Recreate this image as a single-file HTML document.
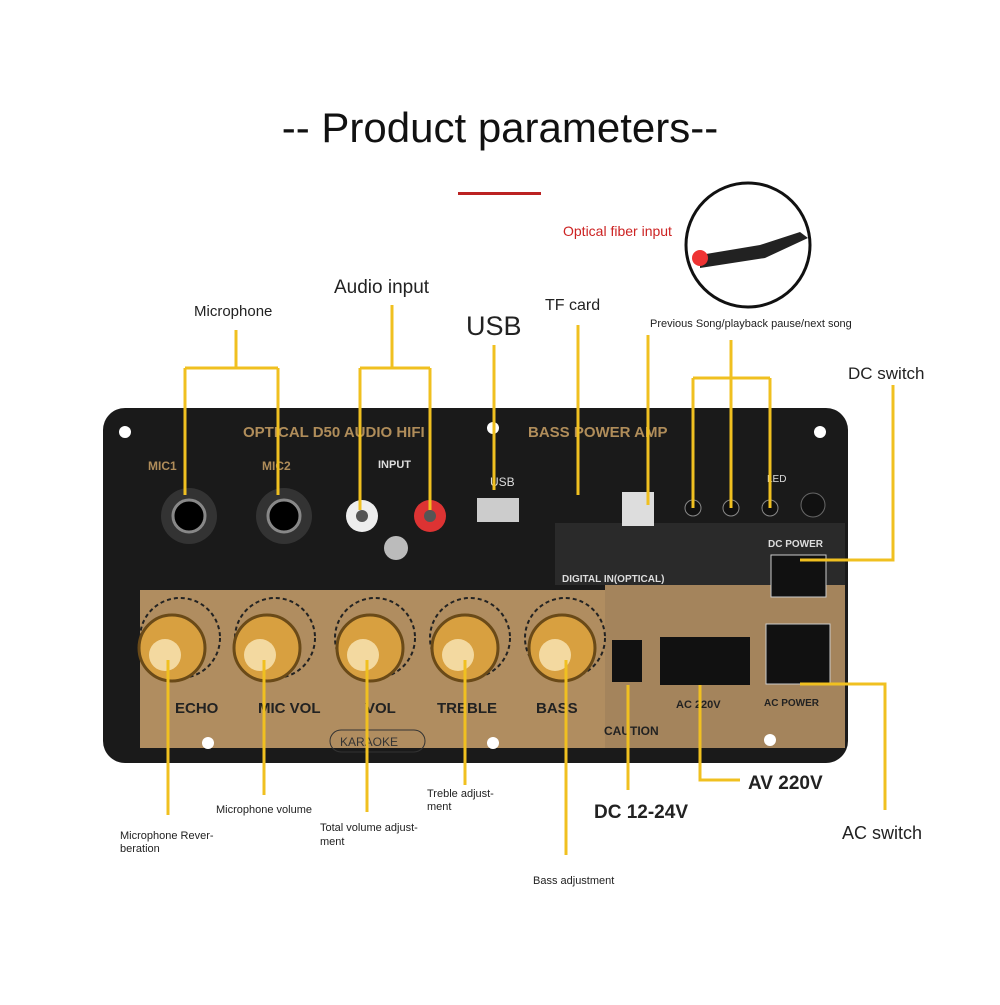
<!DOCTYPE html>
<html><head><meta charset="utf-8"><style>
body{margin:0;width:1000px;height:1000px;background:#fff;overflow:hidden;font-family:"Liberation Sans",sans-serif;}
</style></head><body>
<svg width="1000" height="1000" xmlns="http://www.w3.org/2000/svg" font-family="Liberation Sans, sans-serif">
<text x="500" y="142" font-size="42" text-anchor="middle" fill="#111">-- Product parameters--</text>
<rect x="458" y="192" width="83" height="3" fill="#b22"/>
<circle cx="748" cy="245" r="62" fill="#fff" stroke="#111" stroke-width="3"/>
<path d="M700 255 L760 245 L800 232 L808 238 L765 258 L700 268Z" fill="#222"/>
<circle cx="700" cy="258" r="8" fill="#e33"/>
<text x="563" y="236" font-size="14" fill="#c22">Optical fiber input</text>
<rect x="103" y="408" width="745" height="355" rx="22" fill="#1a1a1a"/>
<rect x="140" y="590" width="705" height="158" fill="#b08d60"/>
<rect x="555" y="523" width="290" height="62" fill="#2a2a2a"/>
<rect x="605" y="585" width="240" height="163" fill="#a4845c"/>
<text x="243" y="437" font-size="15" font-weight="bold" fill="#b08d5a">OPTICAL D50 AUDIO HIFI</text>
<text x="528" y="437" font-size="15" font-weight="bold" fill="#b08d5a">BASS POWER AMP</text>
<text x="148" y="470" font-size="12" font-weight="bold" fill="#b08d5a">MIC1</text>
<text x="262" y="470" font-size="12" font-weight="bold" fill="#b08d5a">MIC2</text>
<text x="378" y="468" font-size="11" font-weight="bold" fill="#ddd">INPUT</text>
<text x="490" y="486" font-size="12" fill="#ddd">USB</text>
<text x="767" y="482" font-size="10" fill="#ddd">LED</text>
<text x="768" y="547" font-size="10" font-weight="bold" fill="#ddd">DC POWER</text>
<text x="562" y="582" font-size="10" font-weight="bold" fill="#ddd">DIGITAL IN(OPTICAL)</text>
<circle cx="189" cy="516" r="28" fill="#333"/><circle cx="189" cy="516" r="16" fill="#000" stroke="#888" stroke-width="3"/>
<circle cx="284" cy="516" r="28" fill="#333"/><circle cx="284" cy="516" r="16" fill="#000" stroke="#888" stroke-width="3"/>
<circle cx="362" cy="516" r="16" fill="#eee"/><circle cx="362" cy="516" r="6" fill="#555"/>
<circle cx="430" cy="516" r="16" fill="#d33"/><circle cx="430" cy="516" r="6" fill="#555"/>
<circle cx="396" cy="548" r="12" fill="#bbb"/>
<rect x="477" y="498" width="42" height="24" fill="#ccc"/>
<rect x="622" y="492" width="32" height="34" fill="#ddd"/>
<rect x="771" y="555" width="55" height="42" fill="#111" stroke="#ccc"/>
<rect x="766" y="624" width="64" height="60" fill="#111" stroke="#ccc"/>
<rect x="612" y="640" width="30" height="42" fill="#111"/>
<rect x="660" y="637" width="90" height="48" fill="#111"/>
<circle cx="693" cy="508" r="8" fill="#111" stroke="#888"/><circle cx="731" cy="508" r="8" fill="#111" stroke="#888"/><circle cx="770" cy="508" r="8" fill="#111" stroke="#888"/>
<circle cx="813" cy="505" r="12" fill="#111" stroke="#666"/>
<g fill="none" stroke="#222" stroke-width="2" stroke-dasharray="4 3">
<circle cx="180" cy="638" r="40"/><circle cx="275" cy="638" r="40"/><circle cx="375" cy="638" r="40"/><circle cx="470" cy="638" r="40"/><circle cx="565" cy="638" r="40"/>
</g>
<g fill="#d8a040" stroke="#6a4a18" stroke-width="3">
<circle cx="172" cy="648" r="33"/><circle cx="267" cy="648" r="33"/><circle cx="370" cy="648" r="33"/><circle cx="465" cy="648" r="33"/><circle cx="562" cy="648" r="33"/>
</g>
<g fill="#f3d9a0">
<circle cx="165" cy="655" r="16"/><circle cx="260" cy="655" r="16"/><circle cx="363" cy="655" r="16"/><circle cx="458" cy="655" r="16"/><circle cx="555" cy="655" r="16"/>
</g>
<g font-size="15" font-weight="bold" fill="#222">
<text x="175" y="713">ECHO</text><text x="258" y="713">MIC VOL</text><text x="365" y="713">VOL</text><text x="437" y="713">TREBLE</text><text x="536" y="713">BASS</text>
<text x="676" y="708" font-size="11">AC 220V</text><text x="764" y="706" font-size="10">AC POWER</text>
<text x="604" y="735" font-size="12">CAUTION</text></g>
<rect x="330" y="730" width="95" height="22" rx="11" fill="none" stroke="#333"/>
<text x="340" y="746" font-size="12" fill="#333">KARAOKE</text>
<g fill="#fff"><circle cx="125" cy="432" r="6"/><circle cx="493" cy="428" r="6"/><circle cx="820" cy="432" r="6"/><circle cx="208" cy="743" r="6"/><circle cx="493" cy="743" r="6"/><circle cx="770" cy="740" r="6"/></g>
<g stroke="#f0c020" stroke-width="3" fill="none">
<path d="M236 330V368M185 368H278M185 368V495M278 368V495"/>
<path d="M392 305V368M360 368H430M360 368V510M430 368V510"/>
<path d="M494 345V490"/><path d="M578 325V495"/><path d="M648 335V505"/>
<path d="M731 340V378M693 378H770M693 378V508M731 378V508M770 378V508"/>
<path d="M893 385V560H800"/><path d="M800 684H885V810"/>
<path d="M700 685V780H740"/><path d="M628 685V790"/>
<path d="M566 660V855"/><path d="M465 660V785"/><path d="M367 660V812"/><path d="M264 660V795"/><path d="M168 660V815"/>
</g>
<g fill="#222">
<text x="194" y="316" font-size="15">Microphone</text>
<text x="334" y="293" font-size="19">Audio input</text>
<text x="466" y="335" font-size="27">USB</text>
<text x="545" y="310" font-size="16">TF card</text>
<text x="650" y="327" font-size="11">Previous Song/playback pause/next song</text>
<text x="848" y="379" font-size="17">DC switch</text>
<text x="842" y="839" font-size="18">AC switch</text>
<text x="748" y="789" font-size="19" font-weight="bold">AV 220V</text>
<text x="594" y="818" font-size="19" font-weight="bold">DC 12-24V</text>
<text x="427" y="797" font-size="11">Treble adjust-</text><text x="427" y="810" font-size="11">ment</text>
<text x="216" y="813" font-size="11">Microphone volume</text>
<text x="320" y="831" font-size="11">Total volume adjust-</text><text x="320" y="845" font-size="11">ment</text>
<text x="120" y="839" font-size="11">Microphone Rever-</text><text x="120" y="852" font-size="11">beration</text>
<text x="533" y="884" font-size="11">Bass adjustment</text>
</g>
</svg>
</body></html>
